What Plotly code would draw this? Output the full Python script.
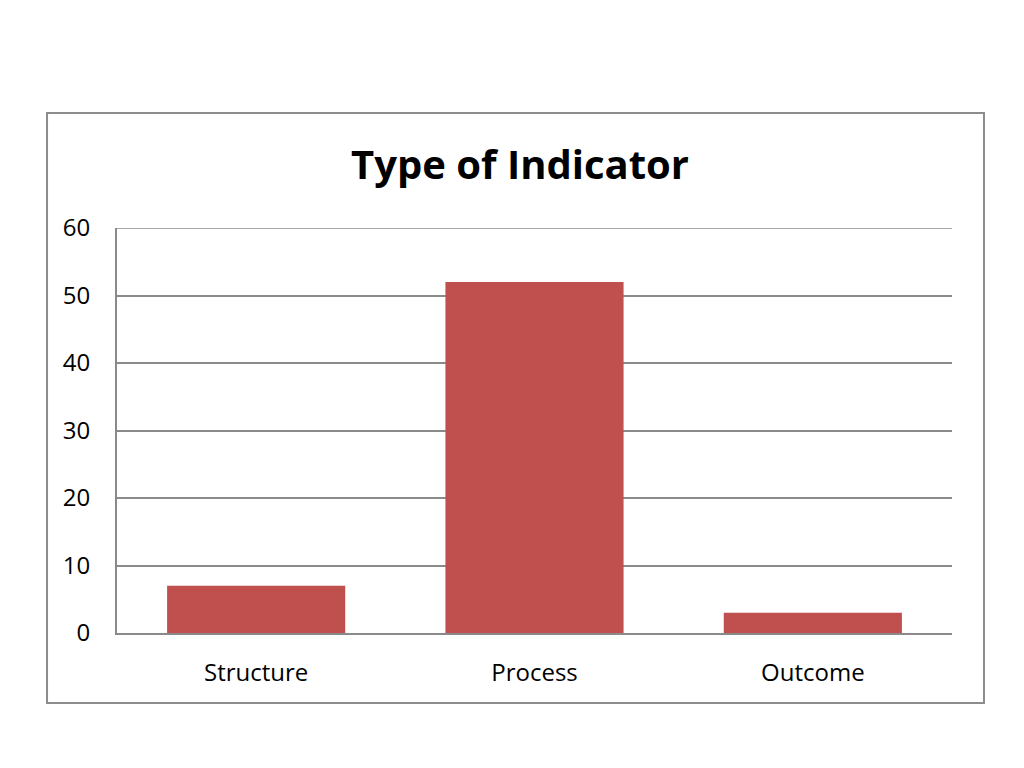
import plotly.graph_objects as go

# data
categories = ["Structure", "Process", "Outcome"]
counts = [7, 52, 3]
y_ticks = [0, 10, 20, 30, 40, 50, 60]

bar_color = "#C0504D"
grid_color = "#8A8A8A"
font_family = "Open Sans, Liberation Sans, sans-serif"

fig = go.Figure()

fig.add_trace(
    go.Bar(
        x=categories,
        y=counts,
        marker=dict(color=bar_color, line=dict(width=0)),
        width=0.64,
    )
)

# outer chart border (paper coords relative to the plot area)
fig.add_shape(
    type="rect",
    xref="paper", yref="paper",
    x0=-0.0838, x1=1.0383, y0=-0.1728, y1=1.284,
    line=dict(color="#8C8C8C", width=2),
    fillcolor="rgba(0,0,0,0)",
    layer="below",
)

# top gridline sits on the range edge, plotly skips it
fig.add_shape(
    type="line",
    xref="paper", yref="y",
    x0=0, x1=1, y0=y_ticks[-1], y1=y_ticks[-1],
    line=dict(color=grid_color, width=1.5),
    layer="below",
)

fig.update_layout(
    width=1024,
    height=768,
    margin=dict(l=109, r=80, t=220, b=143),
    paper_bgcolor="white",
    plot_bgcolor="white",
    showlegend=False,
    font=dict(family=font_family, color="#000000"),
    title=dict(
        text="<b>Type of Indicator</b>",
        x=0.5, xanchor="center",
        y=1 - 157 / 768, yanchor="middle",
        font=dict(size=40, family=font_family, color="#000000"),
    ),
    xaxis=dict(
        showline=True,
        linecolor=grid_color,
        linewidth=2,
        ticks="",
        tickfont=dict(size=24),
        ticklabelstandoff=17,
        showgrid=False,
    ),
    yaxis=dict(
        range=[0, 60],
        tickvals=y_ticks,
        showline=True,
        linecolor=grid_color,
        linewidth=2,
        showgrid=True,
        gridcolor=grid_color,
        gridwidth=1.5,
        zeroline=False,
        ticks="",
        tickfont=dict(size=24),
        ticklabelstandoff=20,
    ),
)

fig.write_html("out.html")
